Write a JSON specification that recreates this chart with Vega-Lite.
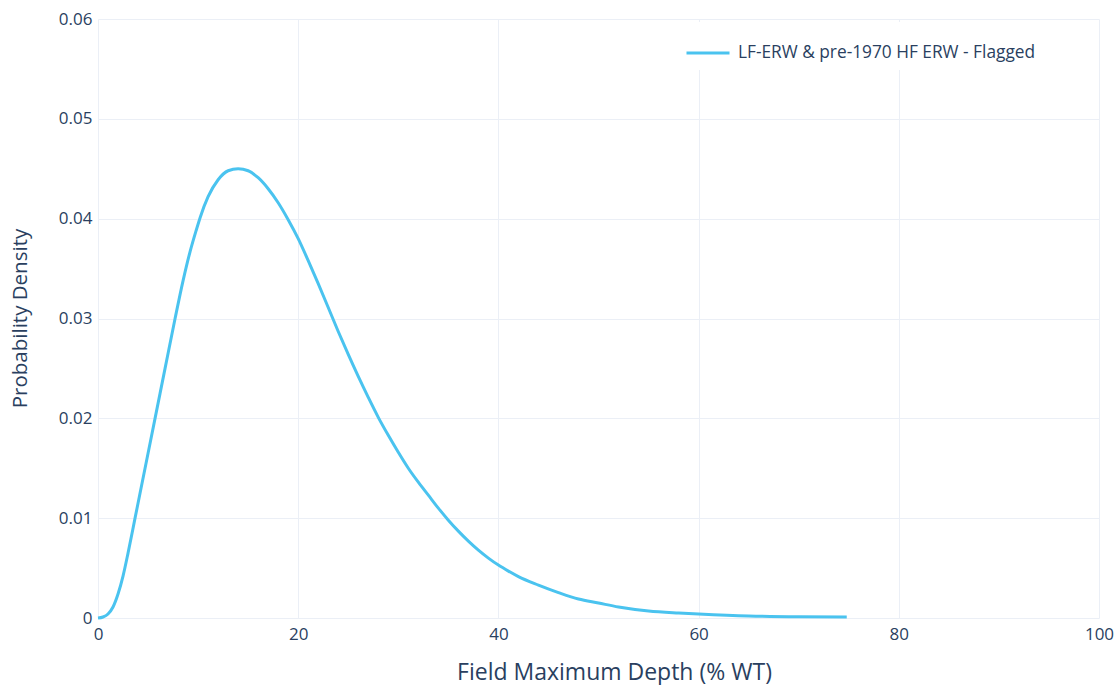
{
  "$schema": "https://vega.github.io/schema/vega-lite/v6.json",
  "width": 1001,
  "height": 599,
  "autosize": {"type": "none"},
  "padding": {"left": 98, "top": 19, "right": 21, "bottom": 67},
  "background": "white",
  "config": {
    "font": "Open Sans",
    "view": {"stroke": null},
    "axis": {
      "domain": false,
      "ticks": false,
      "gridColor": "#ebeff6",
      "gridWidth": 1,
      "labelColor": "#2a3f5f",
      "titleColor": "#2a3f5f",
      "labelFont": "Open Sans",
      "titleFont": "Open Sans",
      "labelFontSize": 17,
      "titleFontWeight": "normal"
    }
  },
  "data": {
    "values": [
      {"depth": 0, "density": 0, "series": "LF-ERW & pre-1970 HF ERW - Flagged"},
      {"depth": 0.5, "density": 0.0001, "series": "LF-ERW & pre-1970 HF ERW - Flagged"},
      {"depth": 1, "density": 0.0004, "series": "LF-ERW & pre-1970 HF ERW - Flagged"},
      {"depth": 1.5, "density": 0.0011, "series": "LF-ERW & pre-1970 HF ERW - Flagged"},
      {"depth": 2, "density": 0.0024, "series": "LF-ERW & pre-1970 HF ERW - Flagged"},
      {"depth": 2.5, "density": 0.0042, "series": "LF-ERW & pre-1970 HF ERW - Flagged"},
      {"depth": 3, "density": 0.0065, "series": "LF-ERW & pre-1970 HF ERW - Flagged"},
      {"depth": 3.7, "density": 0.01, "series": "LF-ERW & pre-1970 HF ERW - Flagged"},
      {"depth": 4.7, "density": 0.015, "series": "LF-ERW & pre-1970 HF ERW - Flagged"},
      {"depth": 5.7, "density": 0.02, "series": "LF-ERW & pre-1970 HF ERW - Flagged"},
      {"depth": 6.7, "density": 0.025, "series": "LF-ERW & pre-1970 HF ERW - Flagged"},
      {"depth": 7.7, "density": 0.03, "series": "LF-ERW & pre-1970 HF ERW - Flagged"},
      {"depth": 8.5, "density": 0.0338, "series": "LF-ERW & pre-1970 HF ERW - Flagged"},
      {"depth": 9.2, "density": 0.0367, "series": "LF-ERW & pre-1970 HF ERW - Flagged"},
      {"depth": 9.8, "density": 0.0388, "series": "LF-ERW & pre-1970 HF ERW - Flagged"},
      {"depth": 10.2, "density": 0.0401, "series": "LF-ERW & pre-1970 HF ERW - Flagged"},
      {"depth": 11, "density": 0.0422, "series": "LF-ERW & pre-1970 HF ERW - Flagged"},
      {"depth": 12, "density": 0.0439, "series": "LF-ERW & pre-1970 HF ERW - Flagged"},
      {"depth": 13, "density": 0.0448, "series": "LF-ERW & pre-1970 HF ERW - Flagged"},
      {"depth": 14, "density": 0.045, "series": "LF-ERW & pre-1970 HF ERW - Flagged"},
      {"depth": 15, "density": 0.0448, "series": "LF-ERW & pre-1970 HF ERW - Flagged"},
      {"depth": 16, "density": 0.0441, "series": "LF-ERW & pre-1970 HF ERW - Flagged"},
      {"depth": 17, "density": 0.043, "series": "LF-ERW & pre-1970 HF ERW - Flagged"},
      {"depth": 18, "density": 0.0416, "series": "LF-ERW & pre-1970 HF ERW - Flagged"},
      {"depth": 19, "density": 0.0399, "series": "LF-ERW & pre-1970 HF ERW - Flagged"},
      {"depth": 20, "density": 0.038, "series": "LF-ERW & pre-1970 HF ERW - Flagged"},
      {"depth": 21, "density": 0.0358, "series": "LF-ERW & pre-1970 HF ERW - Flagged"},
      {"depth": 22, "density": 0.0335, "series": "LF-ERW & pre-1970 HF ERW - Flagged"},
      {"depth": 23, "density": 0.0311, "series": "LF-ERW & pre-1970 HF ERW - Flagged"},
      {"depth": 24, "density": 0.0287, "series": "LF-ERW & pre-1970 HF ERW - Flagged"},
      {"depth": 25, "density": 0.0264, "series": "LF-ERW & pre-1970 HF ERW - Flagged"},
      {"depth": 26, "density": 0.0242, "series": "LF-ERW & pre-1970 HF ERW - Flagged"},
      {"depth": 27, "density": 0.0221, "series": "LF-ERW & pre-1970 HF ERW - Flagged"},
      {"depth": 28, "density": 0.0201, "series": "LF-ERW & pre-1970 HF ERW - Flagged"},
      {"depth": 29, "density": 0.0183, "series": "LF-ERW & pre-1970 HF ERW - Flagged"},
      {"depth": 30, "density": 0.0166, "series": "LF-ERW & pre-1970 HF ERW - Flagged"},
      {"depth": 31, "density": 0.015, "series": "LF-ERW & pre-1970 HF ERW - Flagged"},
      {"depth": 32, "density": 0.0136, "series": "LF-ERW & pre-1970 HF ERW - Flagged"},
      {"depth": 33, "density": 0.0123, "series": "LF-ERW & pre-1970 HF ERW - Flagged"},
      {"depth": 34, "density": 0.011, "series": "LF-ERW & pre-1970 HF ERW - Flagged"},
      {"depth": 35, "density": 0.0098, "series": "LF-ERW & pre-1970 HF ERW - Flagged"},
      {"depth": 36, "density": 0.0087, "series": "LF-ERW & pre-1970 HF ERW - Flagged"},
      {"depth": 37, "density": 0.0077, "series": "LF-ERW & pre-1970 HF ERW - Flagged"},
      {"depth": 38, "density": 0.0068, "series": "LF-ERW & pre-1970 HF ERW - Flagged"},
      {"depth": 39, "density": 0.006, "series": "LF-ERW & pre-1970 HF ERW - Flagged"},
      {"depth": 40, "density": 0.0053, "series": "LF-ERW & pre-1970 HF ERW - Flagged"},
      {"depth": 41, "density": 0.0047, "series": "LF-ERW & pre-1970 HF ERW - Flagged"},
      {"depth": 42, "density": 0.00415, "series": "LF-ERW & pre-1970 HF ERW - Flagged"},
      {"depth": 44, "density": 0.0033, "series": "LF-ERW & pre-1970 HF ERW - Flagged"},
      {"depth": 46, "density": 0.00255, "series": "LF-ERW & pre-1970 HF ERW - Flagged"},
      {"depth": 48, "density": 0.0019, "series": "LF-ERW & pre-1970 HF ERW - Flagged"},
      {"depth": 50, "density": 0.0015, "series": "LF-ERW & pre-1970 HF ERW - Flagged"},
      {"depth": 52, "density": 0.0011, "series": "LF-ERW & pre-1970 HF ERW - Flagged"},
      {"depth": 55, "density": 0.0007, "series": "LF-ERW & pre-1970 HF ERW - Flagged"},
      {"depth": 58, "density": 0.0005, "series": "LF-ERW & pre-1970 HF ERW - Flagged"},
      {"depth": 60, "density": 0.0004, "series": "LF-ERW & pre-1970 HF ERW - Flagged"},
      {"depth": 65, "density": 0.0002, "series": "LF-ERW & pre-1970 HF ERW - Flagged"},
      {"depth": 70, "density": 0.00012, "series": "LF-ERW & pre-1970 HF ERW - Flagged"},
      {"depth": 74.8, "density": 0.0001, "series": "LF-ERW & pre-1970 HF ERW - Flagged"}
    ]
  },
  "mark": {"type": "line", "interpolate": "monotone", "strokeWidth": 3},
  "encoding": {
    "x": {
      "field": "depth",
      "type": "quantitative",
      "scale": {"domain": [0, 100], "nice": false},
      "axis": {
        "title": "Field Maximum Depth (% WT)",
        "titleFontSize": 23,
        "values": [0, 20, 40, 60, 80, 100],
        "labelFlush": false,
        "labelPadding": 8,
        "titleX": 516,
        "titleY": 54,
        "titleBaseline": "middle",
        "titleAnchor": null,
        "titleAlign": "center"
      }
    },
    "y": {
      "field": "density",
      "type": "quantitative",
      "scale": {"domain": [0, 0.06], "nice": false},
      "axis": {
        "title": "Probability Density",
        "titleFontSize": 20.5,
        "values": [0, 0.01, 0.02, 0.03, 0.04, 0.05, 0.06],
        "format": "~g",
        "labelPadding": 6,
        "labelFlush": false,
        "titleX": -78,
        "titleY": 299,
        "titleAngle": -90,
        "titleBaseline": "middle",
        "titleAlign": "center"
      }
    },
    "color": {
      "field": "series",
      "type": "nominal",
      "scale": {"range": ["#4ac3ef"]},
      "legend": {
        "title": null,
        "orient": "none",
        "legendX": 579,
        "legendY": 3,
        "fillColor": "white",
        "padding": 8,
        "symbolType": "stroke",
        "symbolSize": 1849,
        "symbolStrokeWidth": 3,
        "labelFont": "Open Sans",
        "labelFontSize": 17.3,
        "labelLimit": 0,
        "labelColor": "#2a3f5f",
        "labelOffset": 7
      }
    }
  }
}
